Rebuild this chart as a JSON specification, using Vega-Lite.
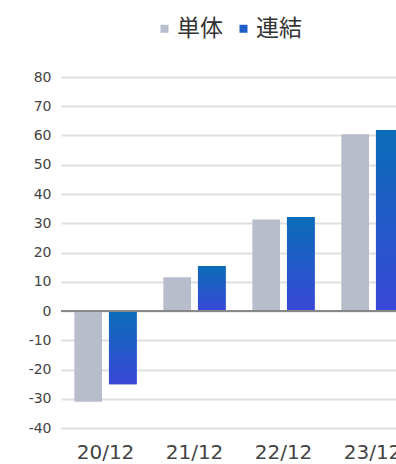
{
  "$schema": "https://vega.github.io/schema/vega-lite/v6.json",
  "autosize": "none",
  "width": 335,
  "height": 351,
  "padding": {"left": 61, "top": 77, "right": 0, "bottom": 36},
  "background": "#ffffff",
  "config": {
    "view": {"stroke": null},
    "font": "Noto Sans CJK JP"
  },
  "data": {
    "values": [
      {"period": "20/12", "series": "単体", "value": -31},
      {"period": "20/12", "series": "連結", "value": -25},
      {"period": "21/12", "series": "単体", "value": 11.5},
      {"period": "21/12", "series": "連結", "value": 15.4},
      {"period": "22/12", "series": "単体", "value": 31.3},
      {"period": "22/12", "series": "連結", "value": 32.1},
      {"period": "23/12", "series": "単体", "value": 60.4},
      {"period": "23/12", "series": "連結", "value": 61.9}
    ]
  },
  "encoding": {
    "x": {
      "field": "period",
      "type": "nominal",
      "sort": null,
      "scale": {"range": [0, 356], "paddingInner": 0.3, "paddingOuter": 0.15},
      "axis": {
        "title": null,
        "domain": false,
        "ticks": false,
        "labelAngle": 0,
        "labelFont": "DejaVu Sans",
        "labelFontSize": 20,
        "labelColor": "#444444",
        "labelPadding": 14,
        "grid": false
      }
    },
    "xOffset": {
      "field": "series",
      "type": "nominal",
      "sort": ["単体", "連結"],
      "scale": {"domain": ["単体", "連結"], "paddingInner": 0.2, "paddingOuter": 0}
    },
    "y": {
      "field": "value",
      "type": "quantitative",
      "scale": {"domain": [-40, 80], "nice": false, "zero": false},
      "axis": {
        "title": null,
        "values": [-40, -30, -20, -10, 0, 10, 20, 30, 40, 50, 60, 70, 80],
        "labelExpr": "'' + datum.value",
        "domain": false,
        "ticks": false,
        "labelFont": "DejaVu Sans",
        "labelFontSize": 14,
        "labelColor": "#444444",
        "labelPadding": 10,
        "gridColor": "#e0e0e0",
        "gridWidth": 2
      }
    }
  },
  "layer": [
    {
      "mark": {"type": "bar"},
      "encoding": {
        "color": {
          "field": "series",
          "type": "nominal",
          "sort": ["単体", "連結"],
          "scale": {
            "domain": ["単体", "連結"],
            "range": ["#b8bdcc", "#1f5cc8"]
          },
          "legend": {
            "title": null,
            "orient": "none",
            "direction": "horizontal",
            "legendX": 92,
            "legendY": -60,
            "symbolType": "square",
            "symbolSize": 64,
            "symbolStrokeWidth": 0,
            "symbolOpacity": 1,
            "labelFontSize": 23,
            "labelColor": "#333333",
            "labelOffset": 1,
            "columnPadding": 9
          }
        }
      }
    },
    {
      "transform": [{"filter": "datum.series === '連結'"}],
      "mark": {
        "type": "bar",
        "color": {
          "gradient": "linear",
          "x1": 0, "y1": 0, "x2": 0, "y2": 1,
          "stops": [
            {"offset": 0, "color": "#0a6cb8"},
            {"offset": 1, "color": "#3a48d8"}
          ]
        }
      },
      "encoding": {}
    },
    {
      "mark": {"type": "rule", "color": "#888888", "strokeWidth": 2},
      "encoding": {"y": {"datum": 0}, "x": null, "xOffset": null}
    }
  ]
}
